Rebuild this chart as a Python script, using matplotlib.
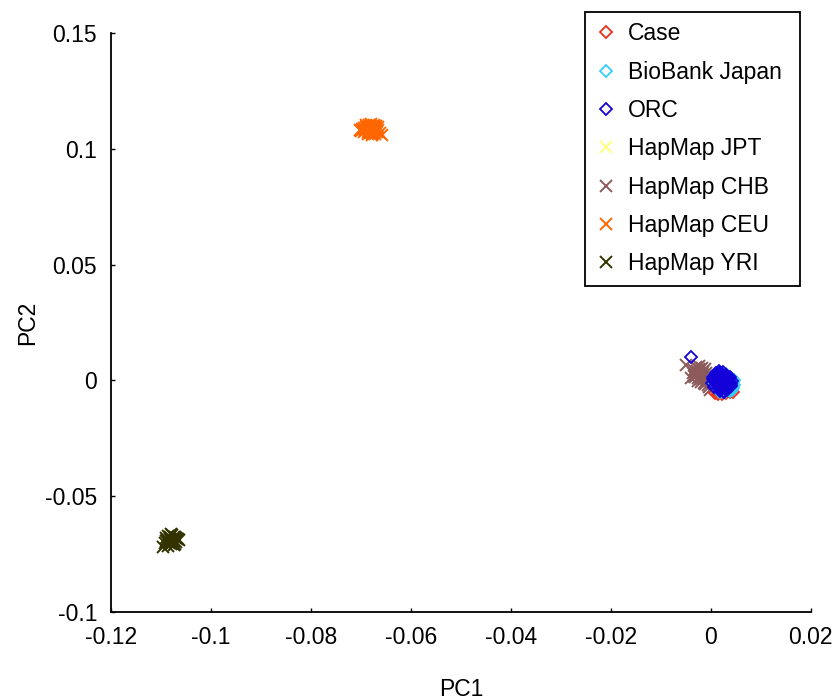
import matplotlib
matplotlib.use("Agg")
import matplotlib.pyplot as plt

plt.rcParams['font.family'] = ['Liberation Sans', 'DejaVu Sans']

# principal component scores per sample group
case_pc1 = [0.0008, 0.0015, 0.0022, 0.0030, 0.0038, 0.0044, 0.0012, 0.0026,
            0.0034, 0.0019, 0.0041, 0.0006, 0.0024, 0.0031]
case_pc2 = [-0.0056, -0.0060, -0.0058, -0.0054, -0.0050, -0.0048, -0.0030, -0.0036,
            -0.0026, -0.0010, -0.0020, 0.0004, 0.0010, -0.0002]

bbj_pc1 = [0.0010, 0.0020, 0.0030, 0.0040, 0.0046, 0.0004, 0.0016, 0.0026, 0.0036, 0.0044,
           0.0012, 0.0022, 0.0032, 0.0041, 0.0006, 0.0018, 0.0028, 0.0038, 0.0045, 0.0014,
           0.0024, 0.0034, 0.0043, 0.0019, 0.0029, 0.0039, 0.0047, 0.0025, 0.0033, 0.0021]
bbj_pc2 = [0.0030, 0.0034, 0.0026, 0.0012, 0.0002, 0.0014, 0.0018, 0.0008, 0.0004, -0.0008,
           -0.0004, -0.0002, -0.0012, -0.0018, -0.0012, -0.0020, -0.0024, -0.0030, -0.0034, -0.0032,
           -0.0038, -0.0042, -0.0040, -0.0048, -0.0050, -0.0046, -0.0022, 0.0022, -0.0008, -0.0044]

orc_pc1 = [0.0010, 0.0017, 0.0024, 0.0031, 0.0038, 0.0004, 0.0013, 0.0021, 0.0028, 0.0035,
           0.0042, 0.0008, 0.0016, 0.0023, 0.0030, 0.0037, 0.0002, 0.0012, 0.0020, 0.0027,
           0.0034, 0.0041, 0.0007, 0.0015, 0.0022, 0.0029, 0.0033, 0.0019, 0.0026, 0.0011,
           0.0040, 0.0005, 0.0021, 0.0027, 0.0014, 0.0032, 0.0024, 0.0036, 0.0018, 0.0009,
           0.0030, 0.0022, 0.0039, 0.0013, 0.0026, 0.0019, 0.0034, 0.0023, 0.0016, -0.0040]
orc_pc2 = [0.0032, 0.0040, 0.0036, 0.0024, 0.0013, 0.0016, 0.0019, 0.0028, 0.0018, 0.0006,
           -0.0004, 0.0000, 0.0005, 0.0010, 0.0004, -0.0008, -0.0013, -0.0010, -0.0006, -0.0014,
           -0.0019, -0.0024, -0.0028, -0.0026, -0.0032, -0.0036, -0.0040, -0.0045, -0.0048, 0.0026,
           -0.0017, 0.0008, 0.0014, -0.0022, -0.0018, -0.0030, 0.0001, 0.0000, -0.0038, -0.0005,
           0.0022, -0.0011, -0.0010, 0.0011, -0.0050, -0.0021, 0.0005, -0.0027, 0.0032, 0.0099]

jpt_pc1 = [0.0010, 0.0016, 0.0022, 0.0028, 0.0014, 0.0020, 0.0026, 0.0018, 0.0024, 0.0012]
jpt_pc2 = [0.0012, 0.0006, 0.0000, -0.0008, -0.0004, -0.0012, 0.0004, 0.0016, -0.0016, -0.0002]

chb_pc1 = [-0.0030, -0.0024, -0.0018, -0.0012, -0.0033, -0.0027, -0.0021, -0.0015, -0.0009, -0.0036,
           -0.0028, -0.0022, -0.0016, -0.0010, -0.0031, -0.0025, -0.0019, -0.0013, -0.0007, -0.0034,
           -0.0026, -0.0020, -0.0014, -0.0023, -0.0017, -0.0011, -0.0005, -0.0029, -0.0003, -0.0050,
           -0.0039, -0.0001]
chb_pc2 = [0.0058, 0.0064, 0.0055, 0.0048, 0.0045, 0.0040, 0.0044, 0.0038, 0.0034, 0.0030,
           0.0026, 0.0030, 0.0022, 0.0018, 0.0014, 0.0012, 0.0008, 0.0004, 0.0000, 0.0020,
           -0.0002, -0.0006, -0.0010, 0.0050, 0.0028, -0.0016, -0.0022, 0.0036, -0.0030, 0.0065,
           0.0010, -0.0040]

ceu_pc1 = [-0.0688, -0.0681, -0.0675, -0.0692, -0.0670, -0.0684, -0.0678, -0.0665, -0.0697, -0.0686,
           -0.0673, -0.0680, -0.0690, -0.0668, -0.0676, -0.0683, -0.0702, -0.0671, -0.0662, -0.0687,
           -0.0679, -0.0694, -0.0674, -0.0685, -0.0669, -0.0677, -0.0691, -0.0682, -0.0672, -0.0666,
           -0.0689, -0.0700, -0.0680, -0.0673, -0.0686, -0.0676, -0.0658, -0.0683, -0.0670, -0.0693]
ceu_pc2 = [0.1085, 0.1094, 0.1078, 0.1080, 0.1088, 0.1103, 0.1068, 0.1083, 0.1087, 0.1072,
           0.1097, 0.1106, 0.1096, 0.1074, 0.1084, 0.1079, 0.1081, 0.1064, 0.1070, 0.1090,
           0.1100, 0.1073, 0.1092, 0.1086, 0.1098, 0.1060, 0.1083, 0.1069, 0.1081, 0.1093,
           0.1104, 0.1076, 0.1082, 0.1102, 0.1063, 0.1089, 0.1061, 0.1095, 0.1077, 0.1091]

yri_pc1 = [-0.1085, -0.1078, -0.1071, -0.1090, -0.1082, -0.1074, -0.1066, -0.1088, -0.1080, -0.1073,
           -0.1084, -0.1076, -0.1069, -0.1093, -0.1079, -0.1072, -0.1086, -0.1077, -0.1068, -0.1081,
           -0.1075, -0.1089, -0.1070, -0.1083, -0.1064, -0.1096, -0.1079, -0.1073]
yri_pc2 = [-0.0672, -0.0666, -0.0674, -0.0680, -0.0683, -0.0678, -0.0684, -0.0690, -0.0688, -0.0692,
           -0.0698, -0.0695, -0.0697, -0.0702, -0.0705, -0.0708, -0.0714, -0.0700, -0.0686, -0.0676,
           -0.0690, -0.0694, -0.0679, -0.0704, -0.0690, -0.0718, -0.0663, -0.0711]

fig = plt.figure(figsize=(8.36, 7.0), dpi=100)
ax = fig.add_axes([0.1328, 0.1257, 0.837, 0.8272])

# HapMap references underneath, study samples on top
xs = dict(linestyle='none', marker='x', ms=9, mew=1.4)
h_jpt, = ax.plot(jpt_pc1, jpt_pc2, color='#ffff80', label='HapMap JPT', **xs)
h_chb, = ax.plot(chb_pc1, chb_pc2, color='#8c5a5a', label='HapMap CHB', **xs)
h_ceu, = ax.plot(ceu_pc1, ceu_pc2, color='#ff6600', label='HapMap CEU', **xs)
h_yri, = ax.plot(yri_pc1, yri_pc2, color='#333300', label='HapMap YRI', **xs)

ds = dict(linestyle='none', marker='D', mfc='none', ms=6, mew=1.3)
h_case, = ax.plot(case_pc1, case_pc2, mec='#e8301a', label='Case', **ds)
h_bbj, = ax.plot(bbj_pc1, bbj_pc2, mec='#33ccff', label='BioBank Japan', **ds)
h_orc, = ax.plot(orc_pc1, orc_pc2, mec='#1400d8', label='ORC', **ds)

ax.set_xlim(-0.12, 0.02)
ax.set_ylim(-0.1, 0.15)
ax.set_xticks([-0.12, -0.1, -0.08, -0.06, -0.04, -0.02, 0, 0.02])
ax.set_xticklabels(['-0.12', '-0.1', '-0.08', '-0.06', '-0.04', '-0.02', '0', '0.02'])
ax.set_yticks([-0.1, -0.05, 0, 0.05, 0.1, 0.15])
ax.set_yticklabels(['-0.1', '-0.05', '0', '0.05', '0.1', '0.15'])

ax.spines['top'].set_visible(False)
ax.spines['right'].set_visible(False)
ax.spines['left'].set_linewidth(1.3)
ax.spines['bottom'].set_linewidth(1.3)
ax.tick_params(direction='in', length=3, width=1, labelsize=16.5, pad=10)

ax.set_xlabel('PC1', fontsize=16.5, labelpad=21)
ax.set_ylabel('PC2', fontsize=16.5, labelpad=4)

handles = [h_case, h_bbj, h_orc, h_jpt, h_chb, h_ceu, h_yri]
leg = fig.legend(handles=handles, loc='upper left',
                 bbox_to_anchor=(0.700, 0.593, 0.257, 0.390), mode='expand',
                 bbox_transform=fig.transFigure, fontsize=16.5, fancybox=False,
                 edgecolor='black', framealpha=1, handlelength=0.9, handletextpad=0.5,
                 labelspacing=0.67, borderpad=0.45, borderaxespad=0, numpoints=1)
leg.get_frame().set_linewidth(1.3)
for h in leg.legend_handles:
    h.set_markersize(6 if h.get_marker() == 'D' else 8)

fig.savefig('out.png', dpi=100)
